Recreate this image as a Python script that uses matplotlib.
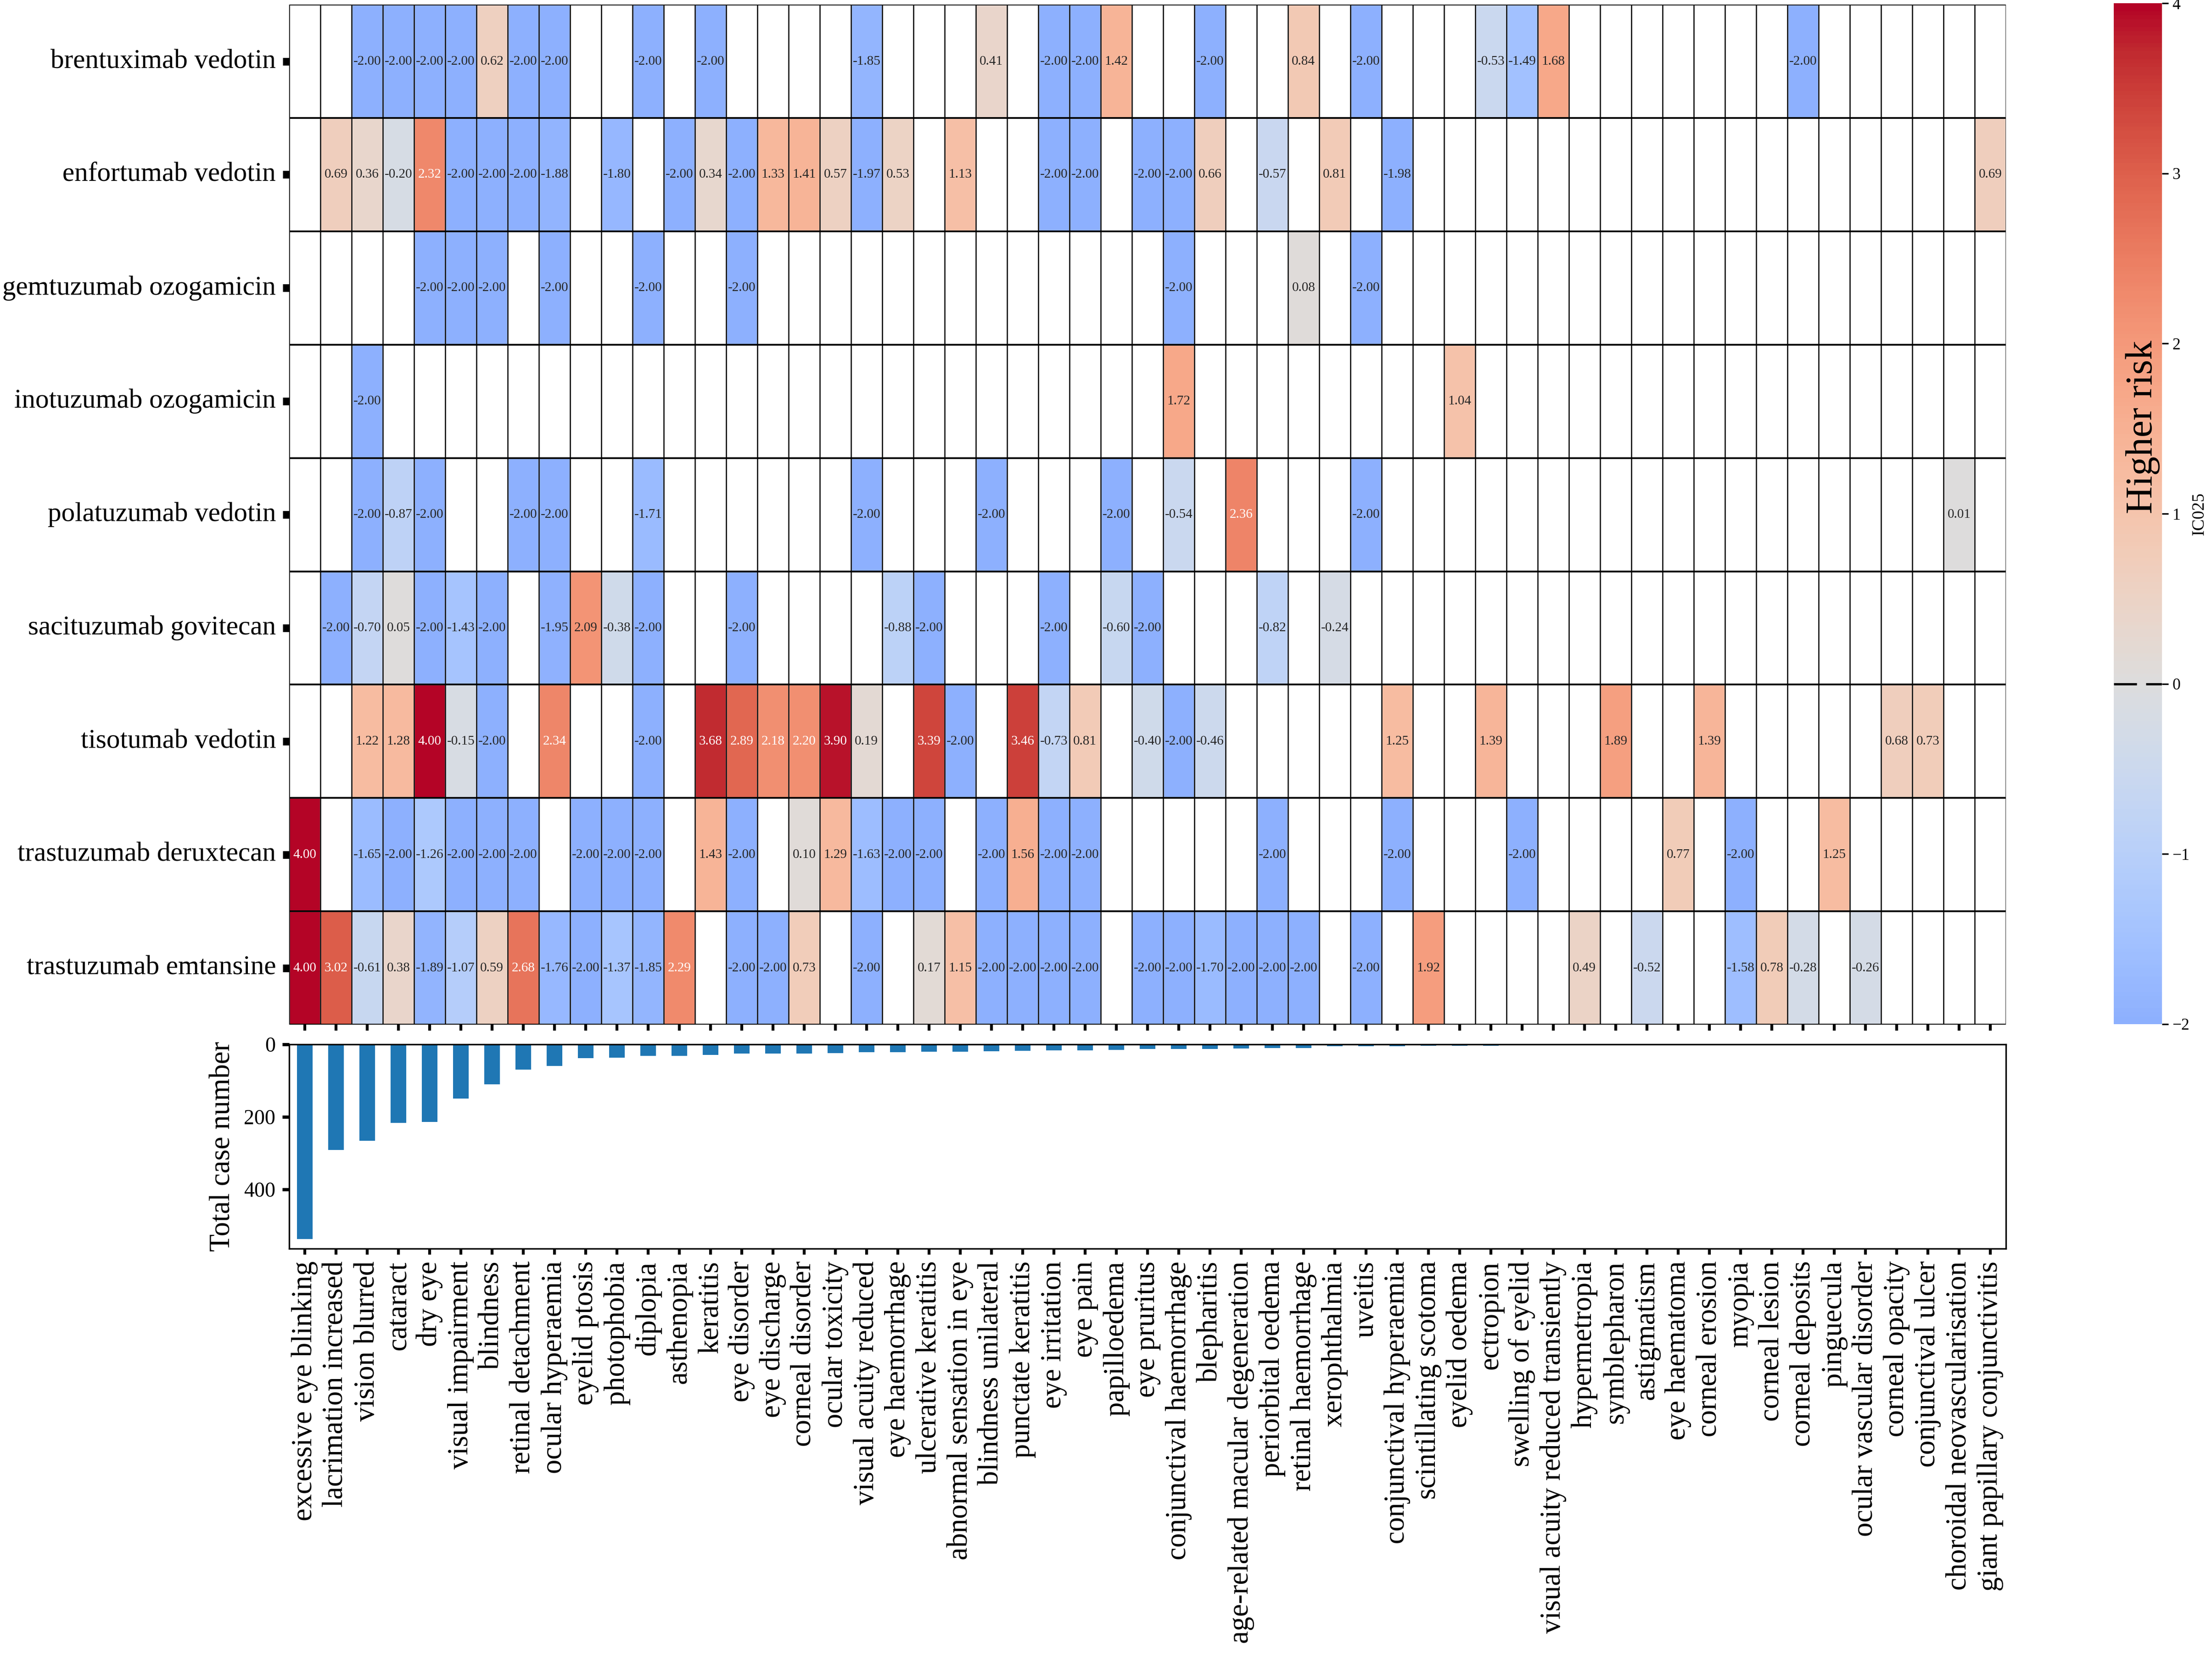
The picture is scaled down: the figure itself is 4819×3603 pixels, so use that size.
import numpy as np
import matplotlib
matplotlib.use('Agg')
import matplotlib.pyplot as plt
import seaborn as sns

plt.rcParams['font.family'] = ['Liberation Serif', 'DejaVu Serif']
plt.rcParams['axes.unicode_minus'] = True

n = np.nan

# adverse events (columns), sorted by total case number
events = ['excessive eye blinking', 'lacrimation increased', 'vision blurred', 'cataract', 'dry eye',
          'visual impairment', 'blindness', 'retinal detachment', 'ocular hyperaemia', 'eyelid ptosis',
          'photophobia', 'diplopia', 'asthenopia', 'keratitis', 'eye disorder', 'eye discharge',
          'corneal disorder', 'ocular toxicity', 'visual acuity reduced', 'eye haemorrhage',
          'ulcerative keratitis', 'abnormal sensation in eye', 'blindness unilateral', 'punctate keratitis',
          'eye irritation', 'eye pain', 'papilloedema', 'eye pruritus', 'conjunctival haemorrhage',
          'blepharitis', 'age-related macular degeneration', 'periorbital oedema', 'retinal haemorrhage',
          'xerophthalmia', 'uveitis', 'conjunctival hyperaemia', 'scintillating scotoma', 'eyelid oedema',
          'ectropion', 'swelling of eyelid', 'visual acuity reduced transiently', 'hypermetropia',
          'symblepharon', 'astigmatism', 'eye haematoma', 'corneal erosion', 'myopia', 'corneal lesion',
          'corneal deposits', 'pinguecula', 'ocular vascular disorder', 'corneal opacity',
          'conjunctival ulcer', 'choroidal neovascularisation', 'giant papillary conjunctivitis']

drugs = ['brentuximab vedotin', 'enfortumab vedotin', 'gemtuzumab ozogamicin', 'inotuzumab ozogamicin',
         'polatuzumab vedotin', 'sacituzumab govitecan', 'tisotumab vedotin', 'trastuzumab deruxtecan',
         'trastuzumab emtansine']

# IC025 per drug (55 values each, nan = no report)
brentuximab = [n, n, -2.00, -2.00, -2.00, -2.00, 0.62, -2.00, -2.00, n,
               n, -2.00, n, -2.00, n, n, n, n, -1.85, n,
               n, n, 0.41, n, -2.00, -2.00, 1.42, n, n, -2.00,
               n, n, 0.84, n, -2.00, n, n, n, -0.53, -1.49,
               1.68, n, n, n, n, n, n, n, -2.00, n,
               n, n, n, n, n]
enfortumab = [n, 0.69, 0.36, -0.20, 2.32, -2.00, -2.00, -2.00, -1.88, n,
              -1.80, n, -2.00, 0.34, -2.00, 1.33, 1.41, 0.57, -1.97, 0.53,
              n, 1.13, n, n, -2.00, -2.00, n, -2.00, -2.00, 0.66,
              n, -0.57, n, 0.81, n, -1.98, n, n, n, n,
              n, n, n, n, n, n, n, n, n, n,
              n, n, n, n, 0.69]
gemtuzumab = [n, n, n, n, -2.00, -2.00, -2.00, n, -2.00, n,
              n, -2.00, n, n, -2.00, n, n, n, n, n,
              n, n, n, n, n, n, n, n, -2.00, n,
              n, n, 0.08, n, -2.00, n, n, n, n, n,
              n, n, n, n, n, n, n, n, n, n,
              n, n, n, n, n]
inotuzumab = [n, n, -2.00, n, n, n, n, n, n, n,
              n, n, n, n, n, n, n, n, n, n,
              n, n, n, n, n, n, n, n, 1.72, n,
              n, n, n, n, n, n, n, 1.04, n, n,
              n, n, n, n, n, n, n, n, n, n,
              n, n, n, n, n]
polatuzumab = [n, n, -2.00, -0.87, -2.00, n, n, -2.00, -2.00, n,
               n, -1.71, n, n, n, n, n, n, -2.00, n,
               n, n, -2.00, n, n, n, -2.00, n, -0.54, n,
               2.36, n, n, n, -2.00, n, n, n, n, n,
               n, n, n, n, n, n, n, n, n, n,
               n, n, n, 0.01, n]
sacituzumab = [n, -2.00, -0.70, 0.05, -2.00, -1.43, -2.00, n, -1.95, 2.09,
               -0.38, -2.00, n, n, -2.00, n, n, n, n, -0.88,
               -2.00, n, n, n, -2.00, n, -0.60, -2.00, n, n,
               n, -0.82, n, -0.24, n, n, n, n, n, n,
               n, n, n, n, n, n, n, n, n, n,
               n, n, n, n, n]
tisotumab = [n, n, 1.22, 1.28, 4.00, -0.15, -2.00, n, 2.34, n,
             n, -2.00, n, 3.68, 2.89, 2.18, 2.20, 3.90, 0.19, n,
             3.39, -2.00, n, 3.46, -0.73, 0.81, n, -0.40, -2.00, -0.46,
             n, n, n, n, n, 1.25, n, n, 1.39, n,
             n, n, 1.89, n, n, 1.39, n, n, n, n,
             n, 0.68, 0.73, n, n]
deruxtecan = [4.00, n, -1.65, -2.00, -1.26, -2.00, -2.00, -2.00, n, -2.00,
              -2.00, -2.00, n, 1.43, -2.00, n, 0.10, 1.29, -1.63, -2.00,
              -2.00, n, -2.00, 1.56, -2.00, -2.00, n, n, n, n,
              n, -2.00, n, n, n, -2.00, n, n, n, -2.00,
              n, n, n, n, 0.77, n, -2.00, n, n, 1.25,
              n, n, n, n, n]
emtansine = [4.00, 3.02, -0.61, 0.38, -1.89, -1.07, 0.59, 2.68, -1.76, -2.00,
             -1.37, -1.85, 2.29, n, -2.00, -2.00, 0.73, n, -2.00, n,
             0.17, 1.15, -2.00, -2.00, -2.00, -2.00, n, -2.00, -2.00, -1.70,
             -2.00, -2.00, -2.00, n, -2.00, n, 1.92, n, n, n,
             n, 0.49, n, -0.52, n, n, -1.58, 0.78, -0.28, n,
             -0.26, n, n, n, n]

# total case number per event
total_cases = [537, 292, 266, 217, 214, 150, 110, 70, 60, 38,
               37, 32, 32, 29, 26, 25, 25, 24, 22, 21,
               20, 20, 19, 18, 16, 16, 15, 13, 13, 13,
               12, 10, 10, 5, 5, 5, 4, 4, 4, 3,
               3, 3, 3, 2, 2, 2, 2, 2, 2, 2,
               1, 1, 1, 1, 1]

ic025 = np.array([brentuximab, enfortumab, gemtuzumab, inotuzumab, polatuzumab,
                  sacituzumab, tisotumab, deruxtecan, emtansine], dtype=float)
n_rows, n_cols = ic025.shape

fig = plt.figure(figsize=(4819 / 300, 3603 / 300), dpi=300)
ax = fig.add_axes([0.1307, 0.3805, 0.7761, 0.6167])
cax = fig.add_axes([0.9556, 0.3808, 0.0218, 0.6172])
bax = fig.add_axes([0.1307, 0.2451, 0.7761, 0.1235])

# heatmap
sns.heatmap(ic025, ax=ax, cbar_ax=cax, cmap='coolwarm', center=0, vmin=-2, vmax=4,
            annot=True, fmt='.2f', annot_kws={'size': 7},
            linewidths=0.3, linecolor='white',
            xticklabels=False, yticklabels=drugs)
ax.vlines(np.arange(n_cols + 1), 0, n_rows, colors='black', linewidth=0.6)
ax.hlines(np.arange(n_rows + 1), 0, n_cols, colors='black', linewidth=0.9)
ax.set_xticks(np.arange(n_cols) + 0.5)
ax.set_xticklabels([])
ax.set_yticklabels(drugs, rotation=0, fontsize=14.2)
ax.tick_params(axis='y', length=3.4, width=4)
ax.tick_params(axis='x', length=3, width=1.5)

# colorbar
cbar = ax.collections[0].colorbar
cbar.set_ticks([-2, -1, 0, 1, 2, 3, 4])
cax.tick_params(length=3.4, width=0.8, labelsize=8.5, pad=2)
cbar.set_label('IC025', fontsize=9, labelpad=1)
cax.axhline(0, color='black', linewidth=1.2, linestyle=(0, (10, 4)))
cax.text(0.6, 1.0, 'Higher risk', rotation=90, fontsize=20,
         ha='center', va='bottom', transform=cax.get_yaxis_transform())

# total case bars
bax.bar(np.arange(n_cols), total_cases, width=0.5, color='#1f77b4')
bax.set_xlim(-0.5, n_cols - 0.5)
bax.set_ylim(0, max(total_cases) * 1.05)
bax.invert_yaxis()
bax.set_yticks([0, 200, 400])
bax.set_xticks(np.arange(n_cols))
bax.set_xticklabels(events, rotation=90, fontsize=15)
bax.tick_params(axis='y', length=3.6, width=1.7, labelsize=11)
bax.tick_params(axis='x', length=3, width=1.5)
bax.set_ylabel('Total case number', fontsize=15)

fig.savefig('out.png', dpi=300)
